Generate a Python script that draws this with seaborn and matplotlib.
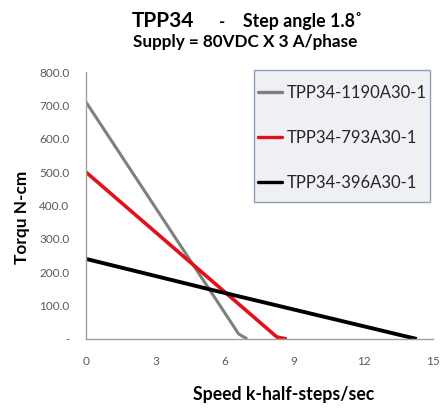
import matplotlib
matplotlib.use("Agg")
import matplotlib.pyplot as plt
from matplotlib.patches import Rectangle
import seaborn as sns
import pandas as pd

# ---- data ----
series_names = ["TPP34-1190A30-1", "TPP34-793A30-1", "TPP34-396A30-1"]
speed_1190 = [0, 6.6, 6.97]
torque_1190 = [710, 15, 0]
speed_793 = [0, 8.25, 8.68]
torque_793 = [500, 6, 0]
speed_396 = [0, 5.45, 14.3]
torque_396 = [240, 147, 0]
x_ticks = [0, 3, 6, 9, 12, 15]
y_ticks = [0, 100, 200, 300, 400, 500, 600, 700, 800]
y_tick_labels = ["-", "100.0", "200.0", "300.0", "400.0", "500.0", "600.0", "700.0", "800.0"]
colors = ["#7f7f7f", "#e3101b", "#000000"]

rows = []
for name, xs, ys in zip(series_names, [speed_1190, speed_793, speed_396],
                        [torque_1190, torque_793, torque_396]):
    for i, (x, y) in enumerate(zip(xs, ys)):
        rows.append({"Speed": x, "Torque": y, "Motor": name, "order": i})
df = pd.DataFrame(rows)

sns.set_theme(style="white")
plt.rcParams["font.family"] = ["Lato", "DejaVu Sans"]

fig = plt.figure(figsize=(4.47, 4.12), dpi=100)
ax = fig.add_axes([0.1924, 0.1772, 0.7763, 0.648])

sns.lineplot(data=df, x="Speed", y="Torque", hue="Motor", hue_order=series_names,
             palette=colors, sort=False, estimator=None, ax=ax, linewidth=2.6)
for line, lw in zip(ax.get_lines(), [2.2, 2.6, 2.8]):
    line.set_linewidth(lw)
    line.set_solid_capstyle("butt")

ax.set_xlim(0, 15)
ax.set_ylim(0, 800)
ax.set_xticks(x_ticks)
ax.set_xticklabels([str(t) for t in x_ticks])
ax.set_yticks(y_ticks)
ax.set_yticklabels(y_tick_labels)
ax.tick_params(axis="both", length=0, pad=12, labelsize=8.5, labelcolor="#595959")
ax.set_xlabel("")
ax.set_ylabel("")
for s in ["top", "right"]:
    ax.spines[s].set_visible(False)
for s in ["left", "bottom"]:
    ax.spines[s].set_color("#a0a0a0")
    ax.spines[s].set_linewidth(1.0)

# legend box
ax.add_patch(Rectangle((0.568, 0.5097), 0.394, 0.3204, transform=fig.transFigure,
                       facecolor="#eef0f3", edgecolor="#8da0b8", linewidth=1.0,
                       zorder=4, clip_on=False))
leg = ax.legend(loc="upper left", bbox_to_anchor=(0.4957, 0.952), frameon=False,
                fontsize=12, handlelength=1.45, handletextpad=0.3,
                labelspacing=1.74, borderpad=0, borderaxespad=0)
leg.set_zorder(6)
for t in leg.get_texts():
    t.set_color("#262626")
for h in leg.get_lines():
    h.set_linewidth(2.4)

fig.text(0.3635, 0.9345, "TPP34", ha="center", va="baseline", fontsize=15,
         fontweight="bold", color="#000000")
fig.text(0.497, 0.9345, "-", ha="center", va="baseline", fontsize=12,
         fontweight="bold", color="#000000")
fig.text(0.676, 0.9345, "Step angle 1.8˚", ha="center", va="baseline", fontsize=12.8,
         fontweight="bold", color="#000000")
fig.text(0.548, 0.887, "Supply = 80VDC X 3 A/phase", ha="center", va="baseline",
         fontsize=12.3, fontweight="bold", color="#000000")
fig.text(0.635, 0.03, "Speed k-half-steps/sec", ha="center", va="baseline",
         fontsize=12.7, fontweight="bold", color="#000000")
fig.text(0.049, 0.473, "Torqu N-cm", ha="center", va="center", rotation=90,
         fontsize=12.4, fontweight="bold", color="#000000")

fig.savefig("out.png", dpi=100, facecolor="white")
